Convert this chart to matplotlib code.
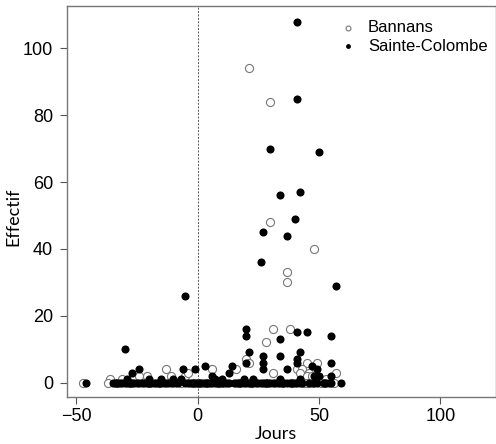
import matplotlib
matplotlib.use("Agg")
import matplotlib.pyplot as plt


# Bannans (open circles): day, count
bannans_days = [21, 30, 30, 48, 37, 37,
                31, 38, 28, 20, 21, 45, 49,
                -36, -31, -24, -21, -13, -11, -5, -4, 6, 16, 31, 41, 43, 42, 46, 57, 45, 53, 47,
                -47, -37, -33, -28, -20, -16, -7, -2, 0, 2, 4, 9, 11, 17, 22, 28, 35, 39, 44, 45,
                47, 51, 52, 56]
bannans_counts = [94, 84, 48, 40, 33, 30,
                  16, 16, 12, 7, 6, 6, 6,
                  1, 1, 2, 2, 4, 2, 2, 3, 4, 4, 3, 4, 4, 3, 3, 3, 2, 1, 2,
                  0, 0, 0, 0, 0, 0, 0, 0, 0, 0, 0, 0, 0, 0, 0, 0, 0, 0, 0, 0,
                  0, 0, 0, 0]

# Sainte-Colombe (filled dots): day, count
colombe_days = [41, 41, 30, 50, 34, 42, 40, 27, 37, 26, 57, -5,
                20, 20, 41, 45, 55, 34, -30, 21, 27, 34, 42, 41, 27, 20, 41, 55, 47, 3, 14,
                -27, -24, -29, -20, -6, -1, 6, 7, 13, 27, 37, 49, 48, 50, 55, 19, -7, -10, -15,
                34, 42, 23, 10]
colombe_counts = [108, 85, 70, 69, 56, 57, 49, 45, 44, 36, 29, 26,
                  16, 14, 15, 15, 14, 13, 10, 9, 8, 8, 9, 7, 6, 6, 6, 6, 5, 5, 5,
                  3, 4, 1, 1, 4, 4, 2, 1, 3, 4, 4, 4, 2, 2, 2, 1, 1, 1, 1,
                  1, 1, 1, 1]
colombe_zero_days = [-46, -35, -34, -33, -32, -31, -30, -29, -28, -27, -26, -25, -24, -23,
                     -22, -21, -20, -19, -18, -17, -16, -15, -14, -13, -12, -11, -10, -9, -8,
                     -5, -4, -3, -2, -1, 0, 1, 3, 4, 5, 6, 7, 8, 9, 10, 12, 13, 15, 16, 17,
                     18, 19, 20, 21, 22, 23, 24, 25, 26, 27, 28, 29, 30, 31, 32, 33, 34, 35,
                     37, 38, 39, 40, 41, 42, 43, 46, 48, 49, 52, 53, 54, 55, 59]
colombe_days = colombe_days + colombe_zero_days
colombe_counts = colombe_counts + [0] * len(colombe_zero_days)

x_ticks = [-50, 0, 50, 100]
y_ticks = [0, 20, 40, 60, 80, 100]

fig = plt.figure(figsize=(4.96, 4.44), dpi=100)
ax = fig.add_axes([0.135, 0.106, 0.866, 0.8805])

ax.axvline(0, color="#555555", linewidth=0.7, linestyle=(0, (2, 1.5)), zorder=1)
ax.scatter(bannans_days, bannans_counts, s=34, facecolors="white", edgecolors="#777777",
           linewidths=0.8, zorder=2, label="Bannans")
ax.scatter(colombe_days, colombe_counts, s=34, color="black", linewidths=0, zorder=3,
           label="Sainte-Colombe")

ax.set_xlim(-53.8, 123.1)
ax.set_ylim(-4.3, 112.7)
ax.set_xticks(x_ticks)
ax.set_yticks(y_ticks)
ax.tick_params(labelsize=13, length=5, width=0.8, color="#555555")
ax.tick_params(axis="y", pad=5)
ax.tick_params(axis="x", pad=3)
for lab in ax.get_xticklabels() + ax.get_yticklabels():
    lab.set_family("Liberation Sans")
for sp in ax.spines.values():
    sp.set_color("#777777")
    sp.set_linewidth(1.0)

ax.set_xlabel("Jours", family="Lato", fontsize=13)
ax.set_ylabel("Effectif", family="Lato", fontsize=13)
ax.xaxis.set_label_coords(0.487, -0.075)
ax.yaxis.set_label_coords(-0.105, 0.46)

leg = ax.legend(loc="upper left", bbox_to_anchor=(0.6, 0.98), frameon=False,
                prop={"family": "Liberation Sans", "size": 12}, handletextpad=0.2,
                labelspacing=0.2, markerscale=0.6, borderaxespad=0)

fig.savefig("out.png", dpi=100)
